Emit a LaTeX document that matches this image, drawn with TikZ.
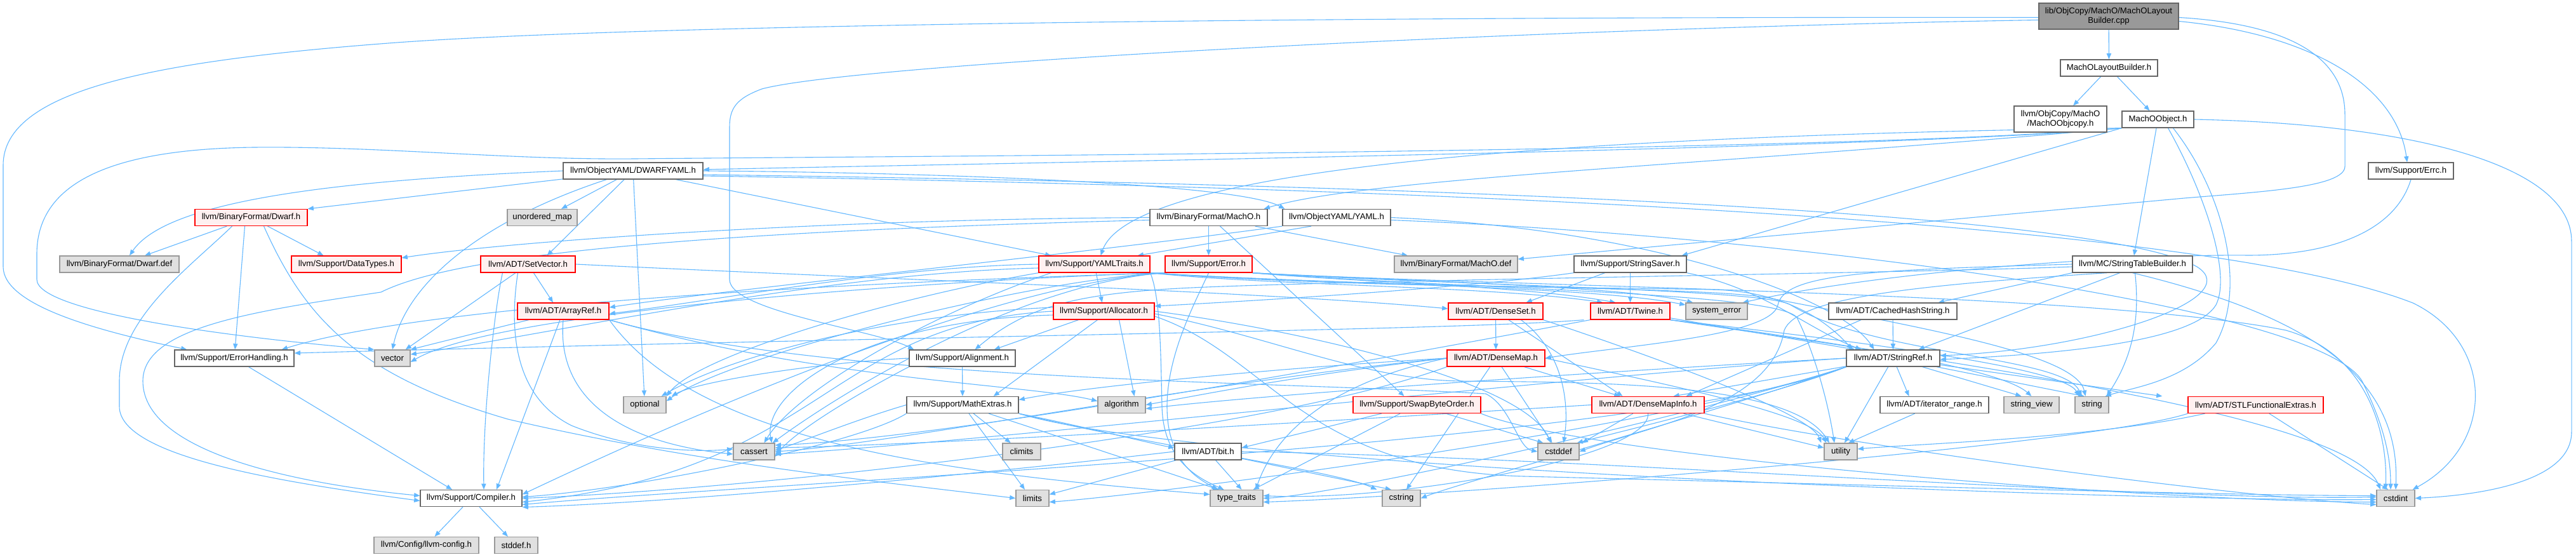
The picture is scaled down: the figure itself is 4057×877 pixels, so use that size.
\documentclass[tikz,border=0pt]{standalone}
\usepackage{fontspec}
\setmainfont{Liberation Sans}
\usetikzlibrary{arrows.meta}
\definecolor{edgec}{HTML}{63B8FF}
\definecolor{gfill}{HTML}{E0E0E0}
\definecolor{gdraw}{HTML}{999999}
\definecolor{rfill}{HTML}{FFF0F0}
\definecolor{rootfill}{HTML}{999999}
\definecolor{wdraw}{HTML}{666666}
\pgfdeclarelayer{back}
\pgfdeclarelayer{bg}
\pgfsetlayers{back,bg,main}
\tikzset{
  nd/.style={draw, line width=0.65pt, inner sep=0pt, minimum height=13pt, font=\fontsize{6.6}{7.4}\selectfont, align=center, text=black},
  wn/.style={nd, fill=white, draw=wdraw},
  gn/.style={nd, fill=gfill, draw=gdraw},
  rn/.style={nd, fill=rfill, draw=red},
  rootn/.style={nd, fill=rootfill, draw=wdraw},
  edg/.style={draw=edgec, line width=0.55pt, -{Triangle[length=4.6pt,width=3.6pt]}}
}
\begin{document}
\begin{tikzpicture}[x=0.5pt,y=-0.5pt]
\begin{pgfonlayer}{back}
\fill[white] (0,0) rectangle (4057,877);
\end{pgfonlayer}
\useasboundingbox (0,0) rectangle (4057,877);
% nodes
\node[rootn, minimum width=110pt, minimum height=20.5pt] (cpp) at (3321,25.5) {lib/ObjCopy/MachO/MachOLayout\\Builder.cpp};
\node[wn, minimum width=76.5pt] (mlb) at (3321.5,107) {MachOLayoutBuilder.h};
\node[wn, minimum width=73pt, minimum height=20.5pt] (mocopy) at (3245,187.5) {llvm/ObjCopy/MachO\\/MachOObjcopy.h};
\node[wn, minimum width=56.5pt] (moobj) at (3398.5,188) {MachOObject.h};
\node[wn, minimum width=110pt] (dwy) at (997,269) {llvm/ObjectYAML/DWARFYAML.h};
\node[wn, minimum width=67pt] (errc) at (3797,269) {llvm/Support/Errc.h};
\node[rn, minimum width=88.5pt] (dwarfh) at (395.5,342.5) {llvm/BinaryFormat/Dwarf.h};
\node[gn, minimum width=55pt] (umap) at (854,342.5) {unordered\_map};
\node[wn, minimum width=92.5pt] (machoh) at (1903.5,342.5) {llvm/BinaryFormat/MachO.h};
\node[wn, minimum width=85pt] (yamlh) at (2105,342.5) {llvm/ObjectYAML/YAML.h};
\node[gn, minimum width=94pt] (dwdef) at (188,416) {llvm/BinaryFormat/Dwarf.def};
\node[rn, minimum width=86.5pt] (dtypes) at (545.5,416) {llvm/Support/DataTypes.h};
\node[rn, minimum width=74.5pt] (setvec) at (831.5,416) {llvm/ADT/SetVector.h};
\node[rn, minimum width=87.5pt] (ytraits) at (1723.5,416) {llvm/Support/YAMLTraits.h};
\node[rn, minimum width=68.5pt] (errorh) at (1903.5,416) {llvm/Support/Error.h};
\node[gn, minimum width=97pt] (modef) at (2293,416) {llvm/BinaryFormat/MachO.def};
\node[wn, minimum width=88.5pt] (ssaver) at (2567.5,416) {llvm/Support/StringSaver.h};
\node[wn, minimum width=94.5pt] (stb) at (3358.5,416) {llvm/MC/StringTableBuilder.h};
\node[rn, minimum width=72pt] (aref) at (887,490) {llvm/ADT/ArrayRef.h};
\node[rn, minimum width=79.5pt] (alloc) at (1738.5,490) {llvm/Support/Allocator.h};
\node[rn, minimum width=74.5pt] (dset) at (2355.5,490) {llvm/ADT/DenseSet.h};
\node[rn, minimum width=62.5pt] (twine) at (2567.5,490) {llvm/ADT/Twine.h};
\node[gn, minimum width=48.5pt] (syserr) at (2703.5,490) {system\_error};
\node[wn, minimum width=101pt] (chs) at (2981,490) {llvm/ADT/CachedHashString.h};
\node[wn, minimum width=94pt] (errh) at (369,564) {llvm/Support/ErrorHandling.h};
\node[gn, minimum width=28pt] (vector) at (618,564) {vector};
\node[wn, minimum width=83.5pt] (align) at (1515.5,564) {llvm/Support/Alignment.h};
\node[rn, minimum width=77pt] (dmap) at (2356,564) {llvm/ADT/DenseMap.h};
\node[wn, minimum width=73.5pt] (sref) at (2981.5,564) {llvm/ADT/StringRef.h};
\node[gn, minimum width=33.5pt] (optional) at (1015.5,637.5) {optional};
\node[wn, minimum width=88pt] (mathx) at (1516,637.5) {llvm/Support/MathExtras.h};
\node[gn, minimum width=37.5pt] (algo) at (1766.5,637.5) {algorithm};
\node[rn, minimum width=100.5pt] (swap) at (2231.5,637.5) {llvm/Support/SwapByteOrder.h};
\node[rn, minimum width=88.5pt] (dmi) at (2595.5,637.5) {llvm/ADT/DenseMapInfo.h};
\node[wn, minimum width=85.5pt] (irange) at (3046.5,637.5) {llvm/ADT/iterator\_range.h};
\node[gn, minimum width=43.5pt] (sview) at (3199.5,637.5) {string\_view};
\node[gn, minimum width=26.5pt] (string) at (3294.5,637.5) {string};
\node[rn, minimum width=106.5pt] (stlf) at (3552.5,637.5) {llvm/ADT/STLFunctionalExtras.h};
\node[gn, minimum width=32.5pt] (cassert) at (1187.5,711) {cassert};
\node[gn, minimum width=30pt] (climits) at (1609,711) {climits};
\node[wn, minimum width=52.5pt] (bit) at (1902.5,711) {llvm/ADT/bit.h};
\node[gn, minimum width=32.5pt] (cstddef) at (2454.5,711) {cstddef};
\node[gn, minimum width=26pt] (utility) at (2899,711) {utility};
\node[wn, minimum width=80pt] (compiler) at (742,784.5) {llvm/Support/Compiler.h};
\node[gn, minimum width=26pt] (limits) at (1626,784.5) {limits};
\node[gn, minimum width=41.5pt] (ttraits) at (1947.5,784.5) {type\_traits};
\node[gn, minimum width=30pt] (cstring) at (2207,784.5) {cstring};
\node[gn, minimum width=30pt] (cstdint) at (3773,784.5) {cstdint};
\node[gn, minimum width=82.5pt] (lconf) at (671.5,858.5) {llvm/Config/llvm-config.h};
\node[gn, minimum width=34pt] (stddef) at (813,858.5) {stddef.h};

\begin{pgfonlayer}{bg}
% cpp
\draw[edg] (cpp) -- (mlb);
\draw[edg] ([yshift=-4pt]cpp.east) .. controls (3650,55) and (3775,140) .. ([xshift=-3pt]errc.north);
\draw[edg] ([yshift=-1pt]cpp.east) .. controls (3640,40) and (3693,110) .. (3693,180) -- (3693,262) .. controls (3693,295) and (3560,302) .. (3440,312) -- ([yshift=4pt]modef.east);
\draw[edg] ([yshift=-1pt]cpp.west) .. controls (2000,26) and (1000,40) .. (625,67) .. controls (250,95) and (5,140) .. (5,260) -- (5,420) .. controls (5,480) and (150,520) .. ([xshift=10pt]errh.north west);
\draw[edg] ([yshift=-3pt]cpp.west) .. controls (2400,45) and (1350,100) .. (1200,140) .. controls (1160,155) and (1149,170) .. (1149,200) -- (1149,440) .. controls (1149,490) and (1380,520) .. ([xshift=4pt]align.north west);
% MachOLayoutBuilder.h
\draw[edg] (mlb) -- (mocopy);
\draw[edg] (mlb) -- (moobj);
% MachOObject.h
\draw[edg] (moobj.south west) .. controls (3000,235) and (1500,258) .. ([yshift=1pt]dwy.east);
\draw[edg] (moobj.south west) .. controls (2700,260) and (2150,280) .. ([xshift=-3pt]machoh.north east);
\draw[edg] (moobj.south west) .. controls (2400,215) and (1780,270) .. ([xshift=5pt]ytraits.north);
\draw[edg] (moobj.south west) .. controls (2900,240) and (1400,246) .. (1000,250) .. controls (800,252) and (600,230) .. (400,232) .. controls (150,235) and (58,300) .. (58,400) -- (58,440) .. controls (58,490) and (350,530) .. (vector.north west);
\draw[edg] (moobj.south west) -- ([xshift=-4pt]ssaver.north east);
\draw[edg] (moobj) -- (stb);
\draw[edg] ([xshift=8pt]moobj.south) .. controls (3470,300) and (3515,430) .. (3490,480) .. controls (3460,530) and (3300,555) .. ([yshift=-1pt]sref.east);
\draw[edg] ([xshift=12pt]moobj.south) .. controls (3500,300) and (3540,450) .. (3490,540) .. controls (3440,600) and (3360,610) .. ([xshift=-3pt]string.north east);
\draw[edg] (moobj.east) .. controls (3800,195) and (4050,260) .. (4050,380) -- (4050,680) .. controls (4050,760) and (3900,780) .. (cstdint.east);
% Errc
\draw[edg] (errc.south) .. controls (3770,370) and (3660,402) .. (3540,402) .. controls (3400,400) and (3000,420) .. ([xshift=-4pt]syserr.north east);
% DWARFYAML
\draw[edg] (dwy.west) .. controls (500,285) and (260,320) .. ([xshift=8pt]dwdef.north);
\draw[edg] (dwy) -- (dwarfh.north east);
\draw[edg] (dwy) -- ([xshift=15pt]umap.north);
\draw[edg] (dwy) -- ([xshift=15pt]setvec.north);
\draw[edg] (dwy) -- (optional);
\draw[edg] (dwy) -- ([xshift=10pt]ytraits.north west);
\draw[edg] (dwy.east) .. controls (1500,272) and (1950,290) .. ([xshift=2pt]yamlh.north west);
\draw[edg] (dwy) .. controls (750,350) and (640,450) .. (vector.north);
\draw[edg] ([yshift=-3pt]dwy.east) .. controls (2200,290) and (3300,330) .. (3460,420) .. controls (3540,470) and (3300,550) .. ([yshift=2pt]sref.east);
\draw[edg] ([yshift=-4pt]dwy.east) .. controls (2500,300) and (3500,360) .. (3800,477) .. controls (3930,540) and (3930,700) .. ([xshift=-2pt]cstdint.north east);
% Dwarf.h
\draw[edg] (dwarfh) -- ([xshift=20pt]dwdef.north);
\draw[edg] (dwarfh) -- ([xshift=-18pt]dtypes.north);
\draw[edg] ([xshift=-5pt]dwarfh.south) -- (errh);
\draw[edg] ([xshift=10pt]dwarfh.south) .. controls (480,500) and (560,590) .. (800,660) .. controls (1100,730) and (1400,760) .. (limits.west);
\draw[edg] ([xshift=-15pt]dwarfh.south) .. controls (300,420) and (188,500) .. (188,600) -- (188,640) .. controls (188,720) and (450,760) .. ([yshift=-2pt]compiler.west);
% MachO.h
\draw[edg] (machoh.west) .. controls (1300,345) and (800,380) .. ([yshift=5pt]dtypes.east);
\draw[edg] ([yshift=-2pt]machoh.west) .. controls (1100,365) and (720,400) .. (600,460) .. controls (400,490) and (225,515) .. (225,600) .. controls (225,720) and (500,765) .. ([yshift=2pt]compiler.west);
\draw[edg] (machoh) -- (errorh);
\draw[edg] ([xshift=9pt]machoh.south) -- ([xshift=-10pt]swap.north);
\draw[edg] ([xshift=-10pt]machoh.south east) -- ([xshift=-38pt]modef.north);
% YAML.h
\draw[edg] ([xshift=-20pt]yamlh.south) -- ([xshift=-10pt]ytraits.north east);
\draw[edg] (yamlh.south west) .. controls (1700,400) and (1150,455) .. ([yshift=3pt]aref.east);
\draw[edg] (yamlh.east) .. controls (2600,360) and (2900,470) .. ([xshift=-15pt]sref.north);
\draw[edg] ([yshift=-2pt]yamlh.east) .. controls (2800,370) and (3650,480) .. (3720,600) .. controls (3760,680) and (3765,730) .. ([xshift=-4pt]cstdint.north);
% SetVector
\draw[edg] (setvec) -- ([xshift=-8pt]aref.north);
\draw[edg] (setvec.east) .. controls (1400,440) and (2000,460) .. ([yshift=2pt]dset.west);
\draw[edg] (setvec) -- ([xshift=-4pt]vector.north east);
\draw[edg] ([xshift=-20pt]setvec.south) .. controls (780,480) and (760,650) .. ([xshift=10pt]compiler.north);
\draw[edg] ([xshift=-8pt]setvec.south) .. controls (805,500) and (800,620) .. (900,670) .. controls (1000,710) and (1100,712) .. ([yshift=2pt]cassert.west);
% YAMLTraits
\draw[edg] (ytraits.west) .. controls (1400,420) and (1150,470) .. ([yshift=-2pt]aref.east);
\draw[edg] ([yshift=-3pt]ytraits.west) .. controls (1300,430) and (900,520) .. ([yshift=3pt]vector.east);
\draw[edg] (ytraits.south west) .. controls (1400,470) and (1100,560) .. (optional.north east);
\draw[edg] ([xshift=10pt]ytraits.south west) .. controls (1450,500) and (1250,620) .. ([xshift=8pt]cassert.north);
\draw[edg] (ytraits) -- (alloc);
\draw[edg] (ytraits.south east) .. controls (1828,470) and (1828,560) .. (1830,640) .. controls (1832,720) and (1880,750) .. ([xshift=-10pt]ttraits.north);
\draw[edg] (ytraits.south east) .. controls (2100,452) and (2500,452) .. (2700,456) .. controls (2830,460) and (2890,520) .. ([xshift=5pt]sref.north west);
\draw[edg] (ytraits.south east) .. controls (2000,450) and (2350,450) .. ([xshift=10pt]twine.north west);
\draw[edg] (ytraits.south east) .. controls (2100,448) and (2500,450) .. ([yshift=5pt]syserr.west);
\draw[edg] (ytraits.south east) .. controls (2200,455) and (2700,450) .. (2790,470) .. controls (3050,520) and (3270,560) .. ([xshift=-5pt]string.north);
% Error.h
\draw[edg] (errorh.south east) .. controls (2150,445) and (2400,450) .. ([xshift=20pt]twine.north west);
\draw[edg] (errorh.south east) .. controls (2200,442) and (2550,450) .. ([xshift=6pt]syserr.north west);
\draw[edg] (errorh.south west) .. controls (1500,440) and (700,470) .. ([xshift=-10pt]errh.north east);
\draw[edg] (errorh.south west) .. controls (1600,445) and (1200,600) .. ([yshift=3pt]compiler.east);
\draw[edg] (errorh.south west) .. controls (1620,445) and (1350,600) .. ([xshift=-2pt]cassert.north east);
\draw[edg] (errorh.south west) .. controls (1620,440) and (1150,560) .. ([yshift=3pt]optional.east);
\draw[edg] (errorh.south west) .. controls (1620,435) and (800,480) .. ([yshift=-3pt]vector.east);
\draw[edg] (errorh.south) .. controls (1880,480) and (1838,560) .. (1838,640) .. controls (1838,730) and (1890,755) .. ([xshift=-15pt]ttraits.north);
\draw[edg] (errorh.south east) .. controls (2300,455) and (2800,460) .. (2830,500) .. controls (2860,560) and (2880,640) .. ([xshift=-5pt]utility.north);
\draw[edg] (errorh.south east) .. controls (2300,450) and (2780,455) .. (2820,480) .. controls (2950,560) and (3250,560) .. ([xshift=-8pt]string.north);
\draw[edg] (errorh.south east) .. controls (2400,452) and (3300,460) .. (3600,520) .. controls (3740,560) and (3760,700) .. ([xshift=-8pt]cstdint.north);
% StringSaver
\draw[edg] ([xshift=-20pt]ssaver.south) -- ([xshift=24pt]dset.north);
\draw[edg] (ssaver) -- (twine);
\draw[edg] (ssaver.south west) .. controls (2300,455) and (1950,475) .. ([yshift=4pt]alloc.east);
\draw[edg] (ssaver.south east) .. controls (2780,455) and (2850,520) .. ([xshift=12pt]sref.north west);
% StringTableBuilder
\draw[edg] (stb.south west) -- ([xshift=-15pt]chs.north east);
\draw[edg] (stb.west) .. controls (2950,425) and (2810,430) .. (2800,480) .. controls (2790,530) and (2550,545) .. (dmap.east);
\draw[edg] ([xshift=-10pt]stb.south) -- ([xshift=20pt]sref.north);
\draw[edg] ([yshift=-2pt]stb.west) .. controls (3000,430) and (2200,440) .. (1900,452) .. controls (1700,460) and (1620,480) .. ([xshift=10pt]align.north);
\draw[edg] ([xshift=-20pt]stb.south) .. controls (3000,450) and (2830,470) .. (2810,520) .. controls (2790,640) and (2600,670) .. (cstddef.east);
\draw[edg] (stb.south) .. controls (3650,500) and (3780,600) .. (cstdint.north);
\draw[edg] ([xshift=2pt]stb.south) .. controls (3370,500) and (3360,560) .. ([xshift=-2pt]string.north east);
% ArrayRef
\draw[edg] (aref) -- (vector.north east);
\draw[edg] (aref) -- ([xshift=20pt]compiler.north);
\draw[edg] (aref.south) .. controls (875,640) and (1000,700) .. ([yshift=-2pt]cassert.west);
\draw[edg] (aref.south east) .. controls (1300,600) and (1620,605) .. ([yshift=3pt]algo.west);
\draw[edg] (aref.south east) .. controls (1300,600) and (2000,600) .. (2340,620) .. controls (2380,640) and (2390,705) .. (cstddef.west);
\draw[edg] (aref.south east) .. controls (1100,700) and (1500,745) .. ([yshift=3pt]ttraits.west);
% Allocator
\draw[edg] ([xshift=-20pt]alloc.south) -- ([xshift=-17pt]align.north east);
\draw[edg] ([xshift=-5pt]alloc.south) -- ([xshift=-20pt]mathx.north east);
\draw[edg] ([xshift=12pt]alloc.south) -- ([xshift=10pt]algo.north);
\draw[edg] (alloc.west) .. controls (1300,510) and (1300,740) .. ([yshift=-3pt]compiler.east);
\draw[edg] ([yshift=-3pt]alloc.west) .. controls (1350,505) and (1200,620) .. ([xshift=14pt]cassert.north);
\draw[edg] ([yshift=3pt]alloc.west) .. controls (1400,495) and (1150,560) .. ([xshift=-4pt]optional.north east);
\draw[edg] (alloc.east) .. controls (2050,520) and (2400,600) .. ([xshift=-6pt]cstddef.north);
\draw[edg] ([yshift=-2pt]alloc.east) .. controls (2000,530) and (2150,598) .. (2300,600) .. controls (2500,602) and (2820,600) .. ([xshift=-9pt]utility.north);
\draw[edg] ([yshift=-4pt]alloc.east) .. controls (2000,560) and (2050,740) .. (2400,750) .. controls (3000,765) and (3500,780) .. ([yshift=2pt]cstdint.west);
% DenseSet
\draw[edg] (dset) -- (dmap);
\draw[edg] (dset) -- ([xshift=-20pt]dmi.north);
\draw[edg] ([xshift=20pt]dset.south) .. controls (2470,560) and (2470,650) .. ([xshift=4pt]cstddef.north);
\draw[edg] (dset.south east) .. controls (2600,560) and (2850,650) .. ([xshift=-2pt]utility.north west);
% Twine
\draw[edg] (twine) -- ([xshift=-30pt]sref.north);
\draw[edg] ([xshift=-5pt]twine.south west) .. controls (2300,520) and (1500,528) .. ([yshift=4pt]errh.east);
\draw[edg] (twine.south west) .. controls (2200,560) and (1500,690) .. ([yshift=5pt]cassert.east);
\draw[edg] (twine.south east) .. controls (3000,560) and (3700,650) .. ([xshift=-12pt]cstdint.north);
\draw[edg] (twine.south east) .. controls (2950,540) and (3250,580) .. ([xshift=-10pt]string.north);
\draw[edg] (twine.south east) .. controls (2900,540) and (3150,580) .. (sview.north);
% CachedHashString
\draw[edg] ([xshift=-25pt]chs.south) -- ([xshift=30pt]dmi.north);
\draw[edg] (chs) -- (sref);
% ErrorHandling
\draw[edg] (errh) -- ([xshift=-15pt]compiler.north);
% Alignment
\draw[edg] (align) -- (mathx);
\draw[edg] (align.south west) .. controls (1350,620) and (1250,680) .. ([yshift=-4pt]cassert.east);
\draw[edg] (align.west) .. controls (1300,570) and (1100,600) .. ([xshift=4pt]optional.north east);
% DenseMap
\draw[edg] (dmap) -- ([xshift=-22pt]dmi.north);
\draw[edg] (dmap) -- ([xshift=-5pt]cstddef.north);
\draw[edg] (dmap) -- ([xshift=4pt]cstring.north);
\draw[edg] (dmap.west) .. controls (2150,590) and (2020,650) .. ([xshift=-6pt]ttraits.north east);
\draw[edg] (dmap.west) .. controls (2000,580) and (1700,610) .. ([yshift=4pt]mathx.east);
\draw[edg] (dmap.west) .. controls (2050,590) and (1900,620) .. (algo.east);
\draw[edg] (dmap.west) .. controls (1900,600) and (1400,700) .. (cassert.east);
\draw[edg] (dmap.south west) .. controls (2000,680) and (1200,770) .. (compiler.east);
\draw[edg] (dmap.east) .. controls (2600,600) and (2850,650) .. ([xshift=2pt]utility.north west);
% StringRef
\draw[edg] (sref) -- ([xshift=20pt]dmi.north);
\draw[edg] (sref) -- ([xshift=-20pt]stlf.north west);
\draw[edg] (sref) -- ([xshift=-20pt]irange.north);
\draw[edg] (sref) -- ([xshift=-8pt]sview.north);
\draw[edg] (sref) -- ([xshift=-6pt]string.north);
\draw[edg] (sref) -- ([xshift=3pt]utility.north);
\draw[edg] (sref.south west) .. controls (2600,700) and (1200,760) .. ([yshift=-5pt]compiler.east);
\draw[edg] (sref.west) .. controls (2600,580) and (2000,620) .. ([yshift=-3pt]algo.east);
\draw[edg] (sref.west) .. controls (2500,590) and (1500,700) .. ([yshift=-2pt]cassert.east);
\draw[edg] (sref.south west) .. controls (2800,620) and (2550,680) .. ([xshift=-2pt]cstddef.north east);
\draw[edg] (sref.south west) .. controls (2700,650) and (2300,760) .. (cstring.east);
\draw[edg] (sref.south west) .. controls (2600,680) and (1800,780) .. ([yshift=-3pt]limits.east);
\draw[edg] (sref.south west) .. controls (2650,660) and (2100,780) .. (ttraits.east);
% MathExtras
\draw[edg] (mathx.south east) .. controls (1700,670) and (1820,700) .. ([yshift=3pt]bit.west);
\draw[edg] (mathx.south west) .. controls (1350,700) and (1000,770) .. ([yshift=1pt]compiler.east);
\draw[edg] (mathx.west) .. controls (1350,660) and (1250,700) .. ([yshift=1pt]cassert.east);
\draw[edg] (mathx) -- (climits);
\draw[edg] (mathx) -- ([xshift=-6pt]limits.north);
\draw[edg] (mathx) -- ([xshift=-14pt]ttraits.north);
\draw[edg] (mathx.south east) .. controls (1800,700) and (2100,740) .. ([xshift=-4pt]cstring.north west);
\draw[edg] (mathx.south east) .. controls (1900,740) and (3400,790) .. ([yshift=-1pt]cstdint.west);
% SwapByteOrder
\draw[edg] (swap) -- ([yshift=3pt]bit.east);
\draw[edg] (swap) -- ([xshift=-12pt]cstddef.north);
\draw[edg] (swap) -- ([xshift=-8pt]ttraits.north east);
\draw[edg] (swap.south east) .. controls (2500,720) and (3400,790) .. ([yshift=-3pt]cstdint.west);
% DenseMapInfo
\draw[edg] (dmi.west) .. controls (2300,650) and (1500,700) .. ([yshift=3pt]cassert.east);
\draw[edg] (dmi) -- ([xshift=2pt]cstddef.north east);
\draw[edg] (dmi.south east) .. controls (2900,700) and (3500,780) .. ([yshift=-5pt]cstdint.west);
\draw[edg] (dmi.south) .. controls (2600,720) and (2200,790) .. ([yshift=2pt]ttraits.east);
\draw[edg] (dmi) -- ([yshift=3pt]utility.west);
% iterator_range
\draw[edg] (irange) -- ([xshift=6pt]utility.north);
% STLFunctionalExtras
\draw[edg] ([xshift=-40pt]stlf.south) .. controls (3300,690) and (3000,700) .. ([yshift=2pt]utility.east);
\draw[edg] (stlf) -- ([xshift=-6pt]cstdint.north);
\draw[edg] (stlf.south west) .. controls (3300,700) and (2300,780) .. ([yshift=-3pt]ttraits.east);
% bit.h
\draw[edg] (bit.west) .. controls (1600,740) and (1100,790) .. ([yshift=-7pt]compiler.east);
\draw[edg] (bit) -- ([yshift=3pt]limits.east);
\draw[edg] (bit) -- ([xshift=4pt]ttraits.north);
\draw[edg] (bit) -- ([xshift=-8pt]cstring.north);
\draw[edg] (bit.east) .. controls (2500,720) and (3400,790) .. ([yshift=1pt]cstdint.west);
% Compiler
\draw[edg] (compiler) -- (lconf);
\draw[edg] (compiler) -- (stddef);
\end{pgfonlayer}
\end{tikzpicture}
\end{document}
